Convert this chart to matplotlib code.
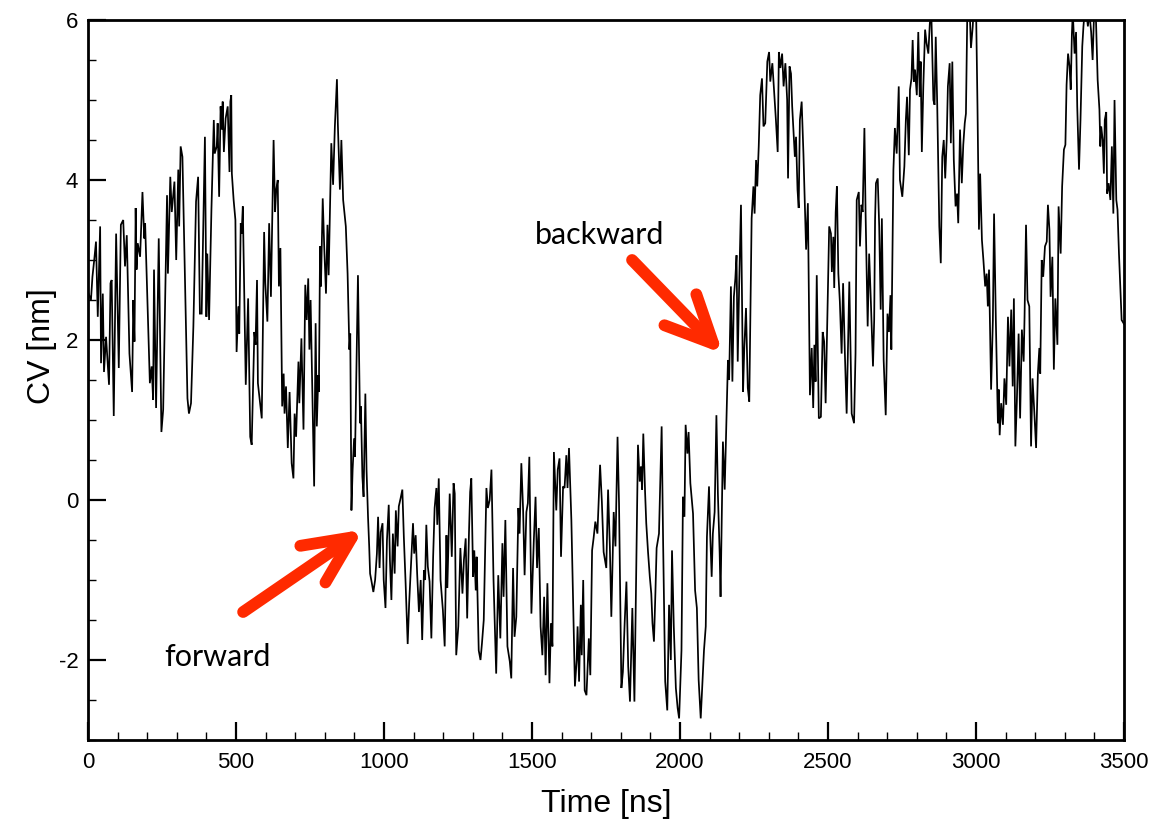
import matplotlib
matplotlib.use("Agg")
import matplotlib.pyplot as plt
from matplotlib.ticker import MultipleLocator
from matplotlib.patches import FancyArrowPatch

# ---- data -------------------------------------------------------------
time_ns = [
    0, 10, 15, 21, 27, 33, 41, 44, 50, 54, 61, 71, 76, 80, 87, 95, 104, 111, 119, 125,
    131, 140, 149, 153, 157, 161, 164, 168, 176, 184, 190, 193, 209, 215, 220, 223, 230, 239, 248, 254,
    267, 270, 278, 283, 292, 298, 305, 308, 313, 319, 336, 341, 348, 356, 365, 372, 378, 384, 395, 400,
    403, 409, 417, 425, 428, 435, 438, 443, 448, 452, 455, 459, 465, 472, 478, 481, 484, 486, 492, 498,
    502, 508, 511, 516, 519, 523, 533, 541, 548, 553, 562, 566, 571, 574, 587, 595,
    599, 606, 612, 618, 627, 632, 636, 641, 645, 650, 656, 661, 664, 669, 675, 681, 688, 694, 698, 703,
    711, 714, 721, 728, 734, 739, 744, 748, 752, 764, 769, 773, 778, 780, 784, 787, 793, 798, 804, 809,
    813, 822, 828, 834, 841, 844, 851, 856, 862, 871, 877, 883, 886, 890, 894, 899, 902, 912, 919, 922,
    927, 931, 937, 941, 946,
    950, 953, 958, 964, 970, 976, 980, 985, 989, 995, 999, 1005, 1010, 1016, 1020, 1025, 1030, 1036, 1040, 1046,
    1050, 1056, 1062, 1067, 1073, 1080, 1085, 1091, 1098, 1102, 1107, 1112, 1118, 1124, 1129, 1135, 1139, 1143, 1148, 1154,
    1160, 1166, 1171, 1177, 1180, 1185, 1191, 1199, 1205, 1211, 1214, 1222, 1229, 1235, 1239, 1244, 1251, 1258, 1265, 1270,
    1276, 1281, 1287, 1291, 1295, 1301, 1305, 1310, 1313, 1320, 1326, 1331, 1337, 1346, 1351, 1357, 1363, 1370, 1379, 1386,
    1393, 1400, 1404, 1410, 1417, 1425, 1430, 1436, 1441, 1447, 1454, 1458, 1464, 1470, 1475, 1481, 1486, 1491, 1498, 1506,
    1512, 1517, 1523, 1529, 1535, 1541, 1546, 1552, 1559, 1564, 1569, 1574, 1582, 1587, 1593, 1598, 1605, 1610, 1616, 1620,
    1625, 1633, 1645, 1651, 1654, 1659, 1665, 1668, 1673, 1678, 1684, 1692, 1697, 1703, 1708, 1714, 1721, 1730, 1736, 1742,
    1751, 1757,
    1763, 1768, 1776, 1782, 1789, 1794, 1802, 1807, 1813, 1819, 1825, 1831, 1839, 1846, 1851, 1858, 1864, 1868, 1872, 1876,
    1882, 1886, 1892, 1898, 1903, 1907, 1912, 1917, 1921, 1929, 1938, 1943, 1950, 1957, 1963, 1969, 1973, 1979, 1986, 1992,
    1997, 2005, 2010, 2015, 2019, 2025, 2029, 2035, 2039, 2044, 2051, 2057, 2063, 2070, 2075, 2081, 2087, 2091, 2098, 2102,
    2107, 2111, 2117, 2123, 2128, 2134, 2137, 2145, 2151, 2156, 2162,
    2166, 2172, 2177, 2182, 2187, 2191, 2195, 2200, 2206, 2213, 2217, 2223, 2229, 2234, 2242, 2248, 2252, 2257, 2261, 2266,
    2271, 2277, 2282, 2288, 2295, 2301, 2305, 2312, 2317, 2324, 2330, 2334, 2339, 2345, 2350, 2356, 2362, 2365, 2370, 2375,
    2379, 2384, 2388, 2392, 2397, 2401, 2405, 2411, 2417, 2426, 2432, 2439, 2445, 2450, 2454, 2458, 2462, 2469, 2476, 2482,
    2487, 2492, 2498, 2504, 2510, 2513, 2518, 2521, 2526, 2530, 2535, 2540, 2546, 2551, 2557, 2563, 2568, 2572, 2580, 2588,
    2593, 2597, 2604, 2608, 2613, 2617, 2623, 2627, 2634, 2639, 2645, 2652, 2656,
    2659, 2662, 2668, 2673, 2678, 2682, 2688, 2695, 2701, 2706, 2711, 2714, 2721, 2726, 2732, 2739, 2743, 2751, 2758, 2763,
    2767, 2773, 2777, 2782, 2786, 2790, 2794, 2800, 2805, 2810, 2813, 2817, 2822, 2828, 2833, 2839, 2844, 2849, 2856, 2860,
    2864, 2869, 2876, 2881, 2886, 2891, 2896, 2901, 2905, 2911, 2915, 2920, 2925, 2931, 2936, 2940, 2946, 2952, 2957, 2962,
    2966, 2971, 2977, 2983, 2989, 2994, 3000, 3005, 3010, 3014, 3020, 3025, 3031, 3036, 3040, 3044, 3051, 3057, 3061, 3067,
    3074, 3077, 3080, 3085, 3091, 3096, 3102, 3108, 3113, 3119, 3124, 3128, 3133, 3138, 3144, 3149, 3155, 3161, 3164, 3169,
    3174, 3180, 3186, 3191, 3197, 3203, 3209, 3214, 3217,
    3222, 3227, 3233, 3239, 3243, 3248, 3252, 3258, 3263, 3268, 3275, 3279, 3286, 3291, 3297, 3302, 3306, 3311, 3316, 3320,
    3324, 3327, 3333, 3338, 3342, 3348, 3353, 3359, 3363, 3368, 3373, 3378, 3383, 3389, 3394, 3399, 3405, 3411, 3417, 3420,
    3423, 3428, 3432, 3435, 3440, 3443, 3448, 3454, 3459, 3464, 3468, 3474, 3478, 3483, 3488, 3492, 3500,
]

cv_nm = [
    2.6, 2.5, 2.79, 3.0, 3.23, 2.29, 3.42, 1.71, 2.58, 1.6, 2.04, 1.44, 2.71, 2.75, 1.05, 3.33, 1.65, 3.44, 3.5, 2.92,
    3.31, 1.83, 1.35, 2.5, 1.98, 3.65, 2.88, 3.21, 3.04, 3.85, 3.27, 3.46, 1.46, 1.67, 1.25, 2.88, 1.15, 3.27, 0.85, 1.13,
    3.81, 2.83, 4.04, 3.6, 3.98, 3.0, 4.13, 3.42, 4.42, 4.29, 1.27, 1.08, 1.21, 2.17, 3.73, 4.04, 2.33, 2.33, 4.54, 2.29,
    3.08, 2.25, 3.63, 4.75, 4.33, 4.42, 4.71, 3.79, 4.92, 4.63, 4.98, 4.35, 4.77, 4.92, 4.1, 4.98, 5.06, 4.08, 3.75, 3.5,
    1.85, 2.42, 2.08, 3.46, 3.33, 3.67, 1.44, 2.52, 0.79, 0.69, 2.1, 1.94, 2.75, 1.46, 1.02, 3.35,
    2.71, 2.23, 3.46, 2.54, 4.5, 3.6, 3.88, 4.0, 2.67, 3.15, 1.17, 1.58, 1.08, 1.42, 0.65, 1.35, 0.46, 0.27, 1.08, 0.79,
    1.73, 1.21, 2.02, 0.88, 2.69, 2.25, 2.77, 1.88, 2.5, 0.17, 2.21, 0.92, 1.56, 1.35, 3.17, 2.67, 3.77, 3.17, 2.58, 3.44,
    2.81, 4.46, 3.94, 4.67, 5.26, 4.71, 3.88, 4.5, 3.75, 3.42, 2.83, 1.88, 2.08, -0.13, 0.38, 0.77, 0.54, 2.81, 0.96, 1.17,
    0.29, 0.04, 1.33, 0.38, -0.21,
    -0.58, -0.92, -1.02, -1.15, -1.0, -0.67, -0.21, -0.85, -0.4, -0.29, -1.0, -1.35, -0.5, -0.06, -0.75, -1.25, -0.42, -0.92, -0.13, -0.58,
    -0.08, 0.02, 0.13, -0.46, -1.04, -1.8, -1.29, -0.83, -0.29, -0.67, -0.44, -0.92, -1.4, -1.0, -1.75, -0.88, -1.0, -0.31, -0.83, -1.02,
    -1.73, -0.71, -0.10, 0.15, -0.31, 0.27, -1.0, -1.38, -1.83, -0.44, -1.1, 0.08, -0.71, 0.21, 0.08, -1.94, -1.58, -0.6, -1.17, -0.75,
    -0.48, -1.48, -0.42, 0.10, 0.27, -0.96, -0.63, -1.13, -0.71, -1.88, -2.0, -1.79, -1.5, 0.15, -0.10, 0.0, 0.38, -1.0, -2.17, -0.94,
    -1.73, -0.54, -1.21, -0.25, -1.83, -2.02, -2.23, -0.85, -1.71, -1.46, -0.10, -0.42, 0.46, -0.13, -0.94, -0.15, -0.04, 0.54, -1.42, -0.52,
    0.04, -0.85, -0.35, -1.58, -1.94, -1.21, -2.19, -1.04, -2.29, -1.54, -1.83, 0.6, -0.13, 0.38, 0.52, -0.71, 0.17, 0.15, 0.56, 0.15,
    0.65, -0.25, -2.33, -2.0, -1.58, -2.27, -1.31, -1.94, -1.0, -2.38, -2.44, -1.73, -2.19, -0.63, -0.48, -0.27, -0.42, 0.44, -0.02, -0.65,
    -0.85, 0.13,
    -0.58, -1.46, -0.15, -0.58, 0.79, -0.04, -2.35, -2.15, -1.54, -1.02, -2.08, -2.52, -1.35, -2.52, -1.19, 0.69, 0.23, 0.42, 0.13, 0.83,
    0.10, -0.29, -0.65, -0.96, -1.17, -1.54, -1.77, -1.15, -0.6, -0.42, 0.92, -0.54, -2.27, -2.63, -1.31, -2.0, -0.63, -1.58, -2.35, -2.6,
    -2.73, -1.88, 0.04, -0.21, 0.94, 0.58, 0.85, 0.21, 0.04, -0.17, -1.13, -1.35, -2.25, -2.73, -2.35, -1.88, -1.58, -0.46, 0.17, -0.42,
    -0.96, -0.42, -0.15, 1.06, 0.08, -0.67, -1.21, 0.73, 0.13, 0.88, 1.75,
    1.5, 2.67, 1.48, 2.54, 2.77, 3.06, 1.73, 2.71, 3.69, 1.35, 1.88, 2.4, 1.4, 1.23, 3.52, 3.92, 3.58, 4.25, 3.92, 4.42,
    5.06, 5.27, 4.67, 4.71, 5.48, 5.6, 5.23, 5.46, 5.17, 4.75, 4.35, 5.6, 5.4, 5.58, 5.17, 5.46, 5.0, 4.02, 5.42, 5.33,
    4.92, 4.56, 4.29, 4.54, 3.88, 3.65, 4.75, 4.98, 4.33, 3.13, 3.71, 1.31, 1.9, 1.15, 1.94, 1.48, 2.81, 1.02, 1.04, 2.1,
    1.98, 1.21, 2.33, 3.42, 3.33, 2.85, 3.29, 2.65, 3.6, 3.92, 2.83, 2.48, 1.83, 2.71, 1.83, 1.08, 1.96, 2.73, 1.08, 0.96,
    1.83, 3.75, 3.85, 3.17, 3.69, 3.6, 4.65, 3.58, 2.17, 3.08, 2.46, 1.67, 2.25,
    3.5, 3.96, 4.02, 3.42, 2.38, 3.52, 1.75, 1.06, 2.33, 2.1, 2.56, 1.88, 4.13, 4.65, 4.33, 5.17, 4.0, 3.79, 4.17, 4.75,
    5.04, 4.31, 5.13, 5.27, 5.75, 5.23, 5.38, 5.06, 5.85, 5.04, 5.48, 4.35, 5.17, 5.88, 5.71, 5.58, 5.96, 6.1, 5.0, 4.94,
    5.79, 4.94, 3.42, 2.96, 4.29, 4.5, 4.02, 4.5, 5.17, 5.46, 4.46, 5.48, 4.25, 3.67, 3.83, 3.46, 4.63, 3.96, 4.44, 4.71,
    4.83, 6.2, 6.3, 5.65, 5.92, 6.3, 6.2, 4.92, 3.38, 4.08, 3.25, 3.0, 2.67, 2.83, 2.42, 2.88, 1.38, 2.25, 3.58, 2.25,
    0.96, 1.38, 0.81, 1.21, 0.94, 1.52, 1.19, 2.29, 1.67, 2.38, 1.42, 2.52, 0.67, 1.23, 2.08, 1.02, 2.13, 1.73, 2.29, 3.44,
    2.5, 2.42, 0.67, 1.52, 1.1, 0.65, 1.58, 1.9, 1.58,
    3.0, 2.79, 3.17, 3.23, 3.69, 3.38, 2.54, 3.04, 1.63, 2.52, 1.94, 3.67, 3.08, 3.92, 4.38, 4.44, 5.19, 5.58, 5.42, 5.13,
    5.83, 6.1, 5.58, 5.85, 4.92, 4.13, 4.75, 5.67, 5.92, 6.15, 6.1, 5.92, 6.1, 5.85, 5.5, 6.1, 6.05, 5.25, 4.88, 4.42,
    4.67, 4.5, 4.08, 4.75, 4.85, 3.83, 3.96, 3.75, 4.42, 3.58, 5.0, 3.75, 3.63, 3.08, 2.63, 2.25, 2.2,
]

x_ticks = [0, 500, 1000, 1500, 2000, 2500, 3000, 3500]
y_ticks = [-2, 0, 2, 4, 6]
x_label = "Time [ns]"
y_label = "CV [nm]"

# ---- figure -------------------------------------------------------------
plt.rcParams['font.family'] = ['Liberation Sans', 'DejaVu Sans']

fig = plt.figure(figsize=(11.58, 8.25), dpi=100)
ax = fig.add_axes([88 / 1158, 85 / 825, 1036 / 1158, 720 / 825])

ax.plot(time_ns, cv_nm, color='black', lw=1.25, solid_joinstyle='miter')

ax.set_xlim(0, 3500)
ax.set_ylim(-3, 6)
ax.set_xticks(x_ticks)
ax.set_xticklabels([str(v) for v in x_ticks])
ax.set_yticks(y_ticks)
ax.set_yticklabels([str(v) for v in y_ticks])
ax.xaxis.set_minor_locator(MultipleLocator(100))
ax.yaxis.set_minor_locator(MultipleLocator(0.5))

ax.tick_params(which='major', direction='in', length=13, width=1.6,
               labelsize=16, top=False, right=False)
ax.tick_params(which='minor', direction='in', length=6, width=1.0,
               top=False, right=False)
ax.tick_params(axis='x', which='major', pad=9)
ax.tick_params(axis='y', which='major', pad=7)

for s in ax.spines.values():
    s.set_linewidth(2.0)

ax.set_xlabel(x_label, fontsize=23, labelpad=11)
ax.set_ylabel(y_label, fontsize=23)
ax.yaxis.set_label_coords(-0.030, 0.547)

# ---- annotations --------------------------------------------------------
red = '#ff2a00'
style = "->,head_length=34,head_width=16"
for tail, tip in [((524, -1.4), (930, -0.37)), ((1838, 3.0), (2145, 1.83))]:
    arr = FancyArrowPatch(tail, tip, arrowstyle=style, mutation_scale=1,
                          lw=8.5, color=red, capstyle='round',
                          joinstyle='round', shrinkA=0, shrinkB=0)
    ax.add_patch(arr)

ax.text(439, -1.96, "forward", fontsize=22, family=['Lato', 'DejaVu Sans'],
        ha='center', va='center')
ax.text(1730, 3.31, "backward", fontsize=22, family=['Lato', 'DejaVu Sans'],
        ha='center', va='center')

fig.savefig("out.png", dpi=100)
